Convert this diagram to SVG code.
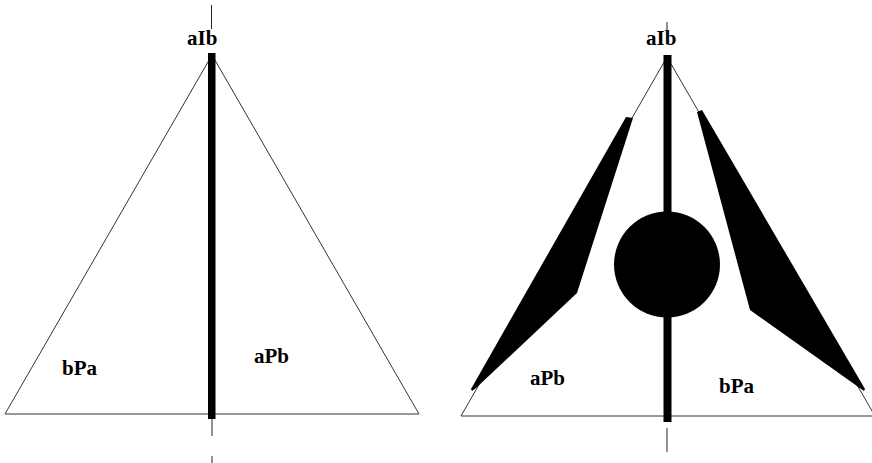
<svg xmlns="http://www.w3.org/2000/svg" width="872" height="463" viewBox="0 0 872 463">
<style>
.tri{fill:none;stroke:#333;stroke-width:1}
.ax{stroke:#222;stroke-width:1}
.bar{fill:#000}
.blk{fill:#000}
.lbl{font-family:"Liberation Serif","Times New Roman",serif;font-weight:bold;font-size:21px;fill:#000}
</style>
<rect width="872" height="463" fill="#fff"/>
<g id="left-figure">
  <g id="left-triangle"><polygon class="tri" points="5,414 212,55 419,414"/></g>
  <g id="left-axis">
    <line class="ax" x1="211.5" y1="5" x2="211.5" y2="29"/>
    <rect class="bar" x="208" y="53" width="7.5" height="366"/>
    <line class="ax" x1="212" y1="419" x2="212" y2="436"/>
    <line class="ax" x1="212" y1="456" x2="212" y2="463"/>
  </g>
  <g id="left-labels">
    <text class="lbl" x="187" y="45">aIb</text>
    <text class="lbl" x="62" y="375">bPa</text>
    <text class="lbl" x="254" y="363">aPb</text>
  </g>
</g>
<g id="right-figure">
  <g id="right-triangle"><polygon class="tri" points="461,416 667,57 875,416"/></g>
  <g id="right-blades">
    <polygon class="blk" points="626,117 633,118 577,293 476,388 472,391 471,389"/>
    <polygon class="blk" points="697,112 702,110 865,389 864,391 750,310"/>
  </g>
  <g id="right-axis">
    <rect class="bar" x="663.5" y="55" width="8" height="367"/>
    <circle class="blk" cx="667" cy="264.5" r="53"/>
    <line class="ax" x1="667" y1="428" x2="667" y2="452"/>
  </g>
  <g id="right-labels">
    <text class="lbl" x="646" y="45">aIb</text>
    <line class="ax" x1="667" y1="22" x2="667" y2="44"/>
    <text class="lbl" x="530" y="385">aPb</text>
    <text class="lbl" x="719" y="393">bPa</text>
  </g>
</g>
</svg>
